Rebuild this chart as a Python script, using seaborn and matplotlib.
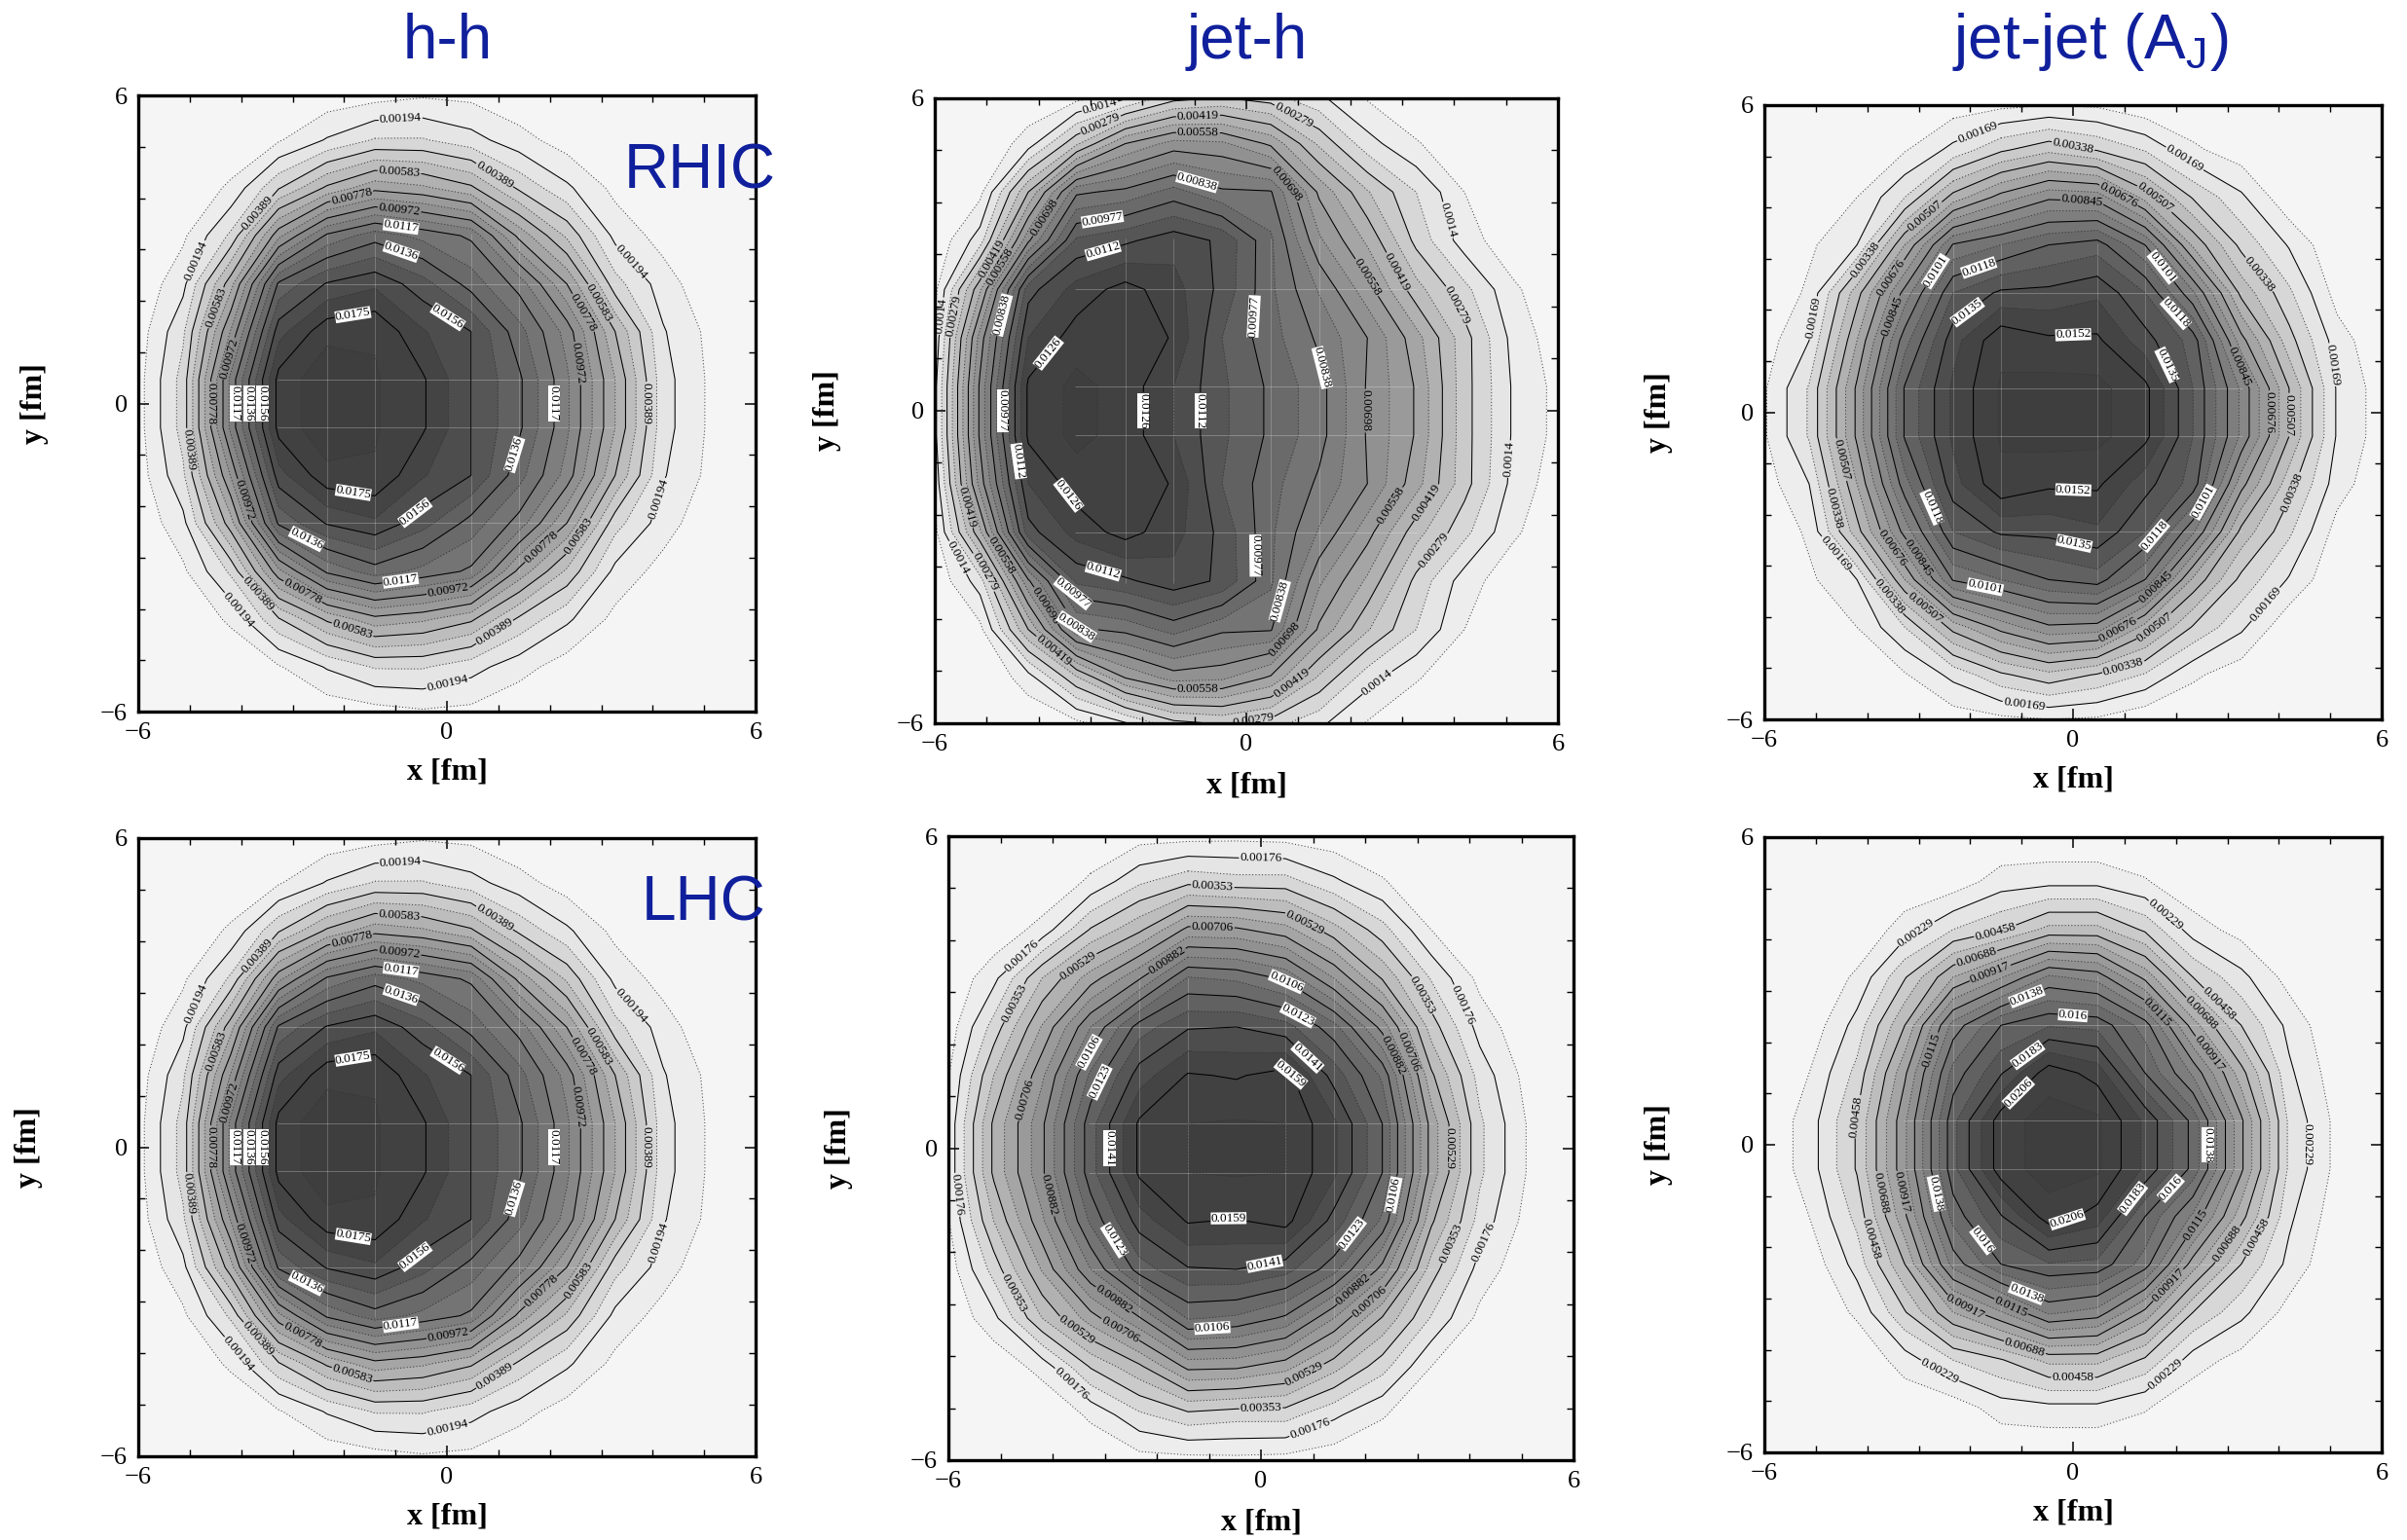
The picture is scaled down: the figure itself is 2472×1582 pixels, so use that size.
import numpy as np
import matplotlib
matplotlib.use("Agg")
import matplotlib.pyplot as plt
import seaborn as sns

W, H = 2472, 1582

# grid nodes of the density maps [fm]
x_nodes = [-6.07, -5.13, -4.2, -3.27, -2.33, -1.4, -0.47, 0.47, 1.4, 2.33, 3.27, 4.2, 5.13, 6.07]
y_upper = [6.07, 5.13, 4.2, 3.27, 2.33, 1.4, 0.47]

# upper half of each map (the maps are mirror symmetric in y), in units of the first contour
hh_rows = [
    [0, 0, 0, 0, .1, .2, .35, .3, .05, 0, 0, 0, 0, 0],
    [0, 0, .05, .45, 1.05, 1.55, 1.55, 1.2, .7, .25, 0, 0, 0, 0],
    [0, .05, .6, 1.95, 3.1, 3.83, 3.6, 3.1, 1.9, 1.1, .35, .05, 0, 0],
    [0, .4, 1.6, 4.35, 6.1, 6.77, 6.35, 5.9, 3.85, 2.4, .85, .3, 0, 0],
    [.05, .85, 3.3, 7.1, 8.05, 8.4, 7.7, 6.8, 5.8, 4.0, 1.7, .75, .1, 0],
    [.15, 1.4, 4.55, 8.3, 9.35, 9.45, 8.55, 8.0, 6.7, 5.3, 3.0, 1.05, .35, .05],
    [.2, 1.7, 5.65, 9.2, 9.85, 9.55, 9.07, 8.0, 7.1, 5.6, 3.5, 1.2, .4, .1],
]
jeth_rhic_rows = [
    [0, 0, .05, .2, .7, 1.6, 1.85, 1.6, 1.05, .4, 0, 0, 0, 0],
    [0, 0, .75, 2.4, 4.0, 4.7, 4.6, 3.9, 2.4, 1.2, .55, .1, 0, 0],
    [0, .35, 3.0, 5.9, 6.15, 6.7, 6.1, 6.05, 3.9, 2.55, 1.5, .5, .05, 0],
    [0, 1.25, 4.9, 7.6, 7.9, 8.3, 7.9, 6.6, 4.6, 3.4, 1.85, .75, .15, 0],
    [.1, 3.4, 7.8, 8.7, 9.2, 8.7, 7.85, 6.6, 5.45, 4.2, 2.7, 1.65, .6, .05],
    [.3, 4.7, 8.5, 9.25, 9.4, 8.95, 7.5, 6.7, 5.9, 5.0, 3.7, 2.2, .85, .15],
    [.5, 5.1, 9.1, 9.65, 9.3, 8.5, 7.6, 6.9, 6.2, 4.95, 3.95, 2.2, .95, .3],
]
jetjet_rhic_rows = [
    [0, 0, 0, 0, .15, .25, .35, .3, 0, 0, 0, 0, 0, 0],
    [0, 0, 0, .45, 1.15, 1.9, 2.35, 1.95, 1.45, .6, .2, 0, 0, 0],
    [0, .05, .5, 1.5, 3.2, 4.2, 4.9, 4.8, 3.3, 1.95, 1.1, .1, 0, 0],
    [0, .4, 1.0, 3.5, 6.05, 6.5, 7.0, 7.25, 6.0, 3.4, 1.85, .95, .05, 0],
    [0, .6, 2.8, 5.2, 7.5, 8.1, 8.15, 8.4, 7.5, 5.6, 2.85, 1.6, .3, 0],
    [.2, 1.0, 3.5, 6.3, 8.3, 9.4, 9.1, 9.1, 8.2, 7.3, 4.2, 2.2, .75, .05],
    [.35, 1.55, 4.1, 7.05, 8.6, 9.55, 9.7, 9.65, 9.15, 7.5, 5.4, 3.0, .95, .2],
]
jeth_lhc_rows = [
    [0, 0, 0, 0, .2, .2, .25, .2, .1, 0, 0, 0, 0, 0],
    [0, 0, 0, .6, 1.4, 1.85, 1.7, 1.7, 1.1, .55, .05, 0, 0, 0],
    [0, .1, .7, 2.05, 2.9, 4.15, 4.1, 3.7, 2.7, 1.7, .5, .05, 0, 0],
    [0, .85, 2.5, 3.75, 4.95, 6.55, 6.4, 5.9, 4.5, 2.95, 1.45, .35, 0, 0],
    [.1, 1.7, 3.55, 5.5, 7.25, 7.95, 8.0, 7.7, 6.7, 4.8, 2.25, .8, .1, 0],
    [.3, 2.5, 4.4, 6.6, 8.25, 9.05, 8.95, 9.2, 7.8, 6.4, 3.1, 1.3, .3, 0],
    [.45, 3.1, 4.9, 7.3, 9.1, 9.5, 9.55, 9.5, 8.6, 7.0, 3.8, 1.6, .45, .05],
]
jetjet_lhc_rows = [
    [0, 0, 0, 0, 0, 0, 0, 0, 0, 0, 0, 0, 0, 0],
    [0, 0, 0, .1, .2, .75, .85, .85, .55, .1, 0, 0, 0, 0],
    [0, 0, .05, .75, 1.5, 1.95, 2.65, 2.65, 1.9, .75, .3, 0, 0, 0],
    [0, 0, .6, 1.95, 3.5, 4.45, 5.6, 5.3, 3.85, 2.0, 1.15, .3, 0, 0],
    [0, .15, 1.2, 3.0, 5.7, 7.0, 7.45, 7.35, 6.25, 3.75, 2.0, .85, .05, 0],
    [0, .5, 1.65, 3.9, 6.7, 7.95, 9.3, 8.8, 7.0, 5.4, 3.2, 1.1, .2, 0],
    [0, .75, 2.05, 4.4, 7.35, 9.3, 9.7, 9.6, 8.4, 6.85, 4.1, 1.4, .35, 0],
]

# contour label texts, first to ninth solid level
hh_labels = ['0.00194', '0.00389', '0.00583', '0.00778', '0.00972', '0.0117', '0.0136', '0.0156', '0.0175']
jeth_rhic_labels = ['0.0014', '0.00279', '0.00419', '0.00558', '0.00698', '0.00838', '0.00977', '0.0112', '0.0126']
jetjet_rhic_labels = ['0.00169', '0.00338', '0.00507', '0.00676', '0.00845', '0.0101', '0.0118', '0.0135', '0.0152']
jeth_lhc_labels = ['0.00176', '0.00353', '0.00529', '0.00706', '0.00882', '0.0106', '0.0123', '0.0141', '0.0159']
jetjet_lhc_labels = ['0.00229', '0.00458', '0.00688', '0.00917', '0.0115', '0.0138', '0.016', '0.0183', '0.0206']

# where the labels sit, per solid level
hh_spots = [
    [(-.9, 5.5), (-4.8, 2.75), (3.46, 2.65), (3.94, -1.8), (-3.97, -3.95), (0, -5.4)],
    [(.92, 4.44), (-3.6, 3.65), (3.83, 0), (-5, -.9), (-3.6, -3.65), (.92, -4.44)],
    [(-.93, 4.44), (-4.45, 1.85), (2.77, 1.85), (2.43, -2.5), (-1.84, -4.42)],
    [(-1.84, 4.0), (2.46, 1.66), (-4.58, 0), (1.77, -2.73), (-2.77, -3.6)],
    [(-.93, 3.72), (-4.22, .87), (2.46, .77), (-3.9, -1.86), (0, -3.5)],
    [(-.9, 3.4), (-4.1, 0), (2.16, 0), (-.9, -3.44)],
    [(-.9, 2.93), (-3.85, 0), (1.2, -.96), (-2.71, -2.6)],
    [(0, 1.66), (-3.58, 0), (-.64, -2.1)],
    [(-1.84, 1.81), (-1.84, -1.86)],
]
jeth_rhic_spots = [
    [(-2.79, 5.73), (3.94, 3.68), (-5.88, 1.82), (4.96, -.92), (-5.58, -2.83), (2.52, -5.22)],
    [(-2.74, 5.34), (.88, 5.61), (-5.64, 1.82), (4.0, 2.0), (-5.0, -3.07), (3.74, -2.78), (.13, -5.9)],
    [(-.93, 5.63), (3.05, 2.75), (-4.87, 2.9), (-5.4, -1.85), (3.45, -1.75), (-3.63, -4.49), (.8, -5.12)],
    [(-.93, 5.34), (2.48, 2.65), (-4.72, 2.75), (-4.73, -2.78), (2.83, -1.85), (-.93, -5.37)],
    [(.8, 4.38), (-3.87, 3.7), (2.26, 0), (-3.89, -3.76), (.8, -4.44)],
    [(-.93, 4.46), (-4.63, 1.82), (1.5, .84), (-3.32, -4.24), (.87, -3.71)],
    [(-2.79, 3.79), (0, 1.82), (-4.75, 0), (-3.36, -3.51), (.18, -2.78)],
    [(-2.76, 3.07), (-.96, 0), (-4.42, -.97), (-2.76, -3.09)],
    [(-4.03, 1.28), (-1.81, 0), (-3.56, -1.72)],
]
jetjet_rhic_spots = [
    [(-1.85, 5.45), (2.21, 5.02), (-5.02, 1.84), (4.98, .92), (-4.72, -2.84), (3.72, -3.73), (-.94, -5.67)],
    [(0, 5.19), (-3.99, 2.94), (3.74, 2.79), (-4.48, -1.84), (4.2, -1.54), (-3.55, -3.58), (.99, -5.02)],
    [(-2.83, 3.78), (1.72, 4.33), (4.14, -.05), (-4.39, -.9), (-2.85, -3.78), (1.72, -4.38)],
    [(-3.41, 2.54), (.92, 4.3), (3.77, 0), (-3.43, -2.59), (.92, -4.33)],
    [(.18, 4.11), (-3.41, 1.84), (3.38, .95), (-2.93, -2.79), (1.67, -3.48)],
    [(-2.57, 2.69), (1.84, 2.92), (2.68, -1.84), (-1.69, -3.33)],
    [(-1.83, 2.82), (2.09, 2.02), (-2.71, -1.84), (1.64, -2.46)],
    [(-2.08, 1.99), (1.84, .93), (0, -2.67)],
    [(0, 1.64), (0, -1.67)],
]
jeth_lhc_spots = [
    [(0, 5.56), (-4.59, 3.7), (3.9, 2.77), (-5.87, -.9), (4.24, -1.79), (-3.7, -4.58), (.92, -5.33)],
    [(-.93, 4.99), (-4.7, 2.77), (3.03, 2.91), (-4.7, -2.76), (3.64, -1.83), (0, -4.96)],
    [(.82, 4.3), (-3.5, 3.51), (3.57, 0), (-3.52, -3.47), (.82, -4.31)],
    [(-.93, 4.25), (-4.56, .94), (2.82, 1.84), (-2.73, -3.54), (2.07, -2.94)],
    [(-1.83, 3.66), (2.55, 1.8), (-4.06, -.9), (-2.89, -3.0), (1.76, -2.7)],
    [(.5, 3.22), (-3.39, 1.89), (2.55, -.9), (-.93, -3.5)],
    [(.67, 2.49), (-3.19, 1.31), (1.78, -1.68), (-2.91, -1.83)],
    [(.94, 1.8), (-2.95, 0), (.07, -2.21)],
    [(.65, 1.51), (-.62, -1.35)],
]
jetjet_lhc_spots = [
    [(-2.99, 4.03), (1.84, 4.54), (4.4, 0), (-2.53, -4.31), (1.84, -4.52)],
    [(-1.52, 4.2), (2.97, 2.88), (-4.18, .54), (-3.93, -1.84), (3.63, -1.84), (0, -4.52)],
    [(-1.86, 3.6), (2.58, 2.65), (-3.76, -.94), (3.07, -1.98), (-.94, -3.96)],
    [(-1.61, 3.35), (2.72, 1.84), (-3.39, -.94), (1.95, -2.83), (-2.06, -3.08)],
    [(-2.71, 1.84), (1.67, 2.61), (2.49, -1.64), (-1.22, -3.19)],
    [(-.92, 2.95), (-2.62, -.94), (2.65, 0), (-.92, -2.94)],
    [(0, 2.56), (-1.73, -1.84), (2, -.94)],
    [(-.92, 1.8), (1.25, -1.12)],
    [(-1.13, 1.08), (-.1, -1.51)],
]

# rows, labels, spots, axes box in pixels (left, right, top, bottom), x label y, y label x
panels = [
    (hh_rows, hh_labels, hh_spots, (142, 776, 98, 731), 793, 33),
    (jeth_rhic_rows, jeth_rhic_labels, jeth_rhic_spots, (960, 1600, 101, 743), 807, 847),
    (jetjet_rhic_rows, jetjet_rhic_labels, jetjet_rhic_spots, (1812, 2446, 108, 739), 801, 1700),
    (hh_rows, hh_labels, hh_spots, (142, 776, 861, 1496), 1558, 27),
    (jeth_lhc_rows, jeth_lhc_labels, jeth_lhc_spots, (974, 1616, 859, 1500), 1564, 859),
    (jetjet_lhc_rows, jetjet_lhc_labels, jetjet_lhc_spots, (1812, 2446, 860, 1492), 1554, 1700),
]

sns.set_theme(style="ticks")
plt.rcParams['font.family'] = ['Liberation Serif', 'DejaVu Serif']
plt.rcParams['mathtext.fontset'] = 'custom'
plt.rcParams['mathtext.rm'] = 'Liberation Sans'

BLUE = '#10209c'
band_levels = np.arange(0, 10.5, 0.5)
greys = sns.blend_palette(['#f5f5f5', '#e6e6e6', '#cccccc', '#b4b4b4', '#9e9e9e', '#8c8c8c',
                           '#7a7a7a', '#686868', '#545454', '#444444', '#3e3e3e'], len(band_levels) - 1)

fig = plt.figure(figsize=(W / 100, H / 100), dpi=100, facecolor='white')

for rows, labels, spots, box, xlab_y, ylab_x in panels:
    left, right, top, bottom = box
    ax = fig.add_axes([left / W, 1 - bottom / H, (right - left) / W, (bottom - top) / H])
    ax.set_axisbelow(False)
    upper = np.array(rows, dtype=float)
    z = np.vstack([upper, upper[::-1]])
    y = y_upper + [-v for v in y_upper[::-1]]

    ax.contourf(x_nodes, y, z, levels=band_levels, colors=greys, extend='neither')

    # faint mesh lines that show through the dark part of the map
    for yy in (-2.33, -.47, .47, 2.33):
        ax.hlines(yy, -3.3, 3.3, color='white', lw=.6, alpha=.3)
    for xx in (-2.33, -1.4, .47, 1.4):
        ax.vlines(xx, -3.3, 3.3, color='white', lw=.6, alpha=.25)

    ax.contour(x_nodes, y, z, levels=np.arange(.5, 10, 1), colors='#333333', linewidths=.7,
               linestyles=[(0, (1, 2.4))])
    ax.set_xlim(-6, 6)
    ax.set_ylim(-6, 6)
    for k in range(9):
        # one contour set per level so that each label lands on its own line
        solid = ax.contour(x_nodes, y, z, levels=[k + 1], colors='black', linewidths=.75, linestyles='-')
        texts = ax.clabel(solid, fmt={k + 1: labels[k]}, fontsize=9.5, colors='black',
                          inline=True, inline_spacing=1, manual=spots[k])
        if k >= 5:
            for t in texts:
                t.set_bbox(dict(facecolor='white', edgecolor='none', pad=.1))

    ax.set_xticks([-6, 0, 6])
    ax.set_yticks([-6, 0, 6])
    ax.set_xticks(range(-5, 6), minor=True)
    ax.set_yticks(range(-5, 6), minor=True)
    ax.tick_params(which='major', direction='in', top=True, right=True, length=8, width=1.1,
                   labelsize=19, pad=8, color='black', labelcolor='black')
    ax.tick_params(which='minor', direction='in', top=True, right=True, length=5, width=1, color='black')
    for s in ax.spines.values():
        s.set_linewidth(2.4)
        s.set_color('black')
    ax.set_facecolor('#f5f5f5')
    fig.text((left + right) / 2 / W, 1 - xlab_y / H, 'x [fm]', ha='center', va='center',
             fontsize=23, fontweight='bold', color='black')
    fig.text((ylab_x + 3) / W, 1 - (top + bottom) / 2 / H, 'y [fm]', ha='center', va='center',
             rotation=90, fontsize=23, fontweight='bold', color='black')

titles = ['h-h', 'jet-h', 'jet-jet (A$_{\\mathrm{J}}$)']
title_x = [460, 1281, 2147]
for name, tx in zip(titles, title_x):
    fig.text(tx / W, 1 - 43 / H, name, ha='center', va='center', fontsize=46,
             family='Liberation Sans', color=BLUE)
fig.text(719 / W, 1 - 177 / H, 'RHIC', ha='center', va='center', fontsize=46,
         family='Liberation Sans', color=BLUE)
fig.text(723 / W, 1 - 929 / H, 'LHC', ha='center', va='center', fontsize=46,
         family='Liberation Sans', color=BLUE)

fig.savefig('out.png', dpi=100)
